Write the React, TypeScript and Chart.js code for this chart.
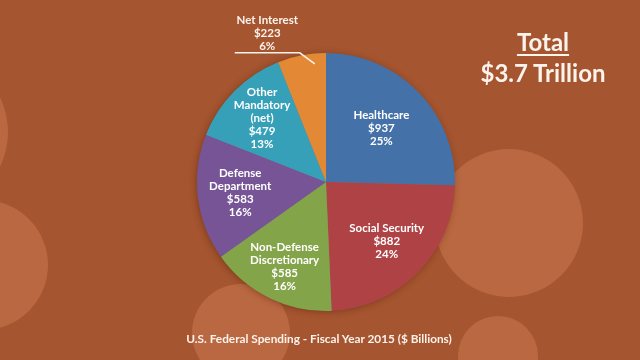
import React, { useEffect, useRef } from "react";
import { Chart, registerables } from "chart.js";

Chart.register(...registerables);

const categories: string[][] = [
  ["Healthcare"],
  ["Social Security"],
  ["Non-Defense", "Discretionary"],
  ["Defense", "Department"],
  ["Other", "Mandatory", "(net)"],
  ["Net Interest"],
];
const spending = [937, 882, 585, 583, 479, 223];
const sharePercents = [25, 24, 16, 16, 13, 6];
const sliceColors = ["#4471A8", "#AE4245", "#84A449", "#765496", "#36A0B9", "#E38834"];

const titleLines = ["Total", "$3.7 Trillion"];
const captionText = "U.S. Federal Spending - Fiscal Year 2015 ($ Billions)";

const BG = "#A5552F";
const CIRCLE = "#BA6841";
const TEXT = "#FCF3EC";

const labelRadius = [0.6, 0.66, 0.73, 0.67, 0.7];

const pieShadow = {
  id: "pieShadow",
  beforeDatasetsDraw(chart: any) {
    const arc = chart.getDatasetMeta(0).data[0];
    if (!arc) return;
    const { x, y, outerRadius } = arc.getProps(["x", "y", "outerRadius"], true);
    const ctx = chart.ctx;
    ctx.save();
    ctx.shadowColor = "rgba(70,25,5,0.45)";
    ctx.shadowBlur = 7;
    ctx.shadowOffsetX = -1;
    ctx.shadowOffsetY = 1;
    ctx.fillStyle = "#7a7a7a";
    ctx.beginPath();
    ctx.arc(x, y, outerRadius - 0.5, 0, Math.PI * 2);
    ctx.fill();
    ctx.restore();
  },
};

const sliceLabels = {
  id: "sliceLabels",
  afterDatasetsDraw(chart: any) {
    const ctx = chart.ctx;
    const meta = chart.getDatasetMeta(0);
    ctx.save();
    ctx.font = "bold 11.5px Lato";
    ctx.fillStyle = "#FFFFFF";
    ctx.textAlign = "center";
    ctx.textBaseline = "middle";
    const lh = 13;
    meta.data.forEach((arc: any, i: number) => {
      const { x, y, startAngle, endAngle, outerRadius } = arc.getProps(
        ["x", "y", "startAngle", "endAngle", "outerRadius"],
        true
      );
      const lines = [...categories[i], `$${spending[i]}`, `${sharePercents[i]}%`];
      if (i < labelRadius.length) {
        const mid = (startAngle + endAngle) / 2;
        const r = outerRadius * labelRadius[i];
        const cx = x + Math.cos(mid) * r;
        const cy = y + Math.sin(mid) * r;
        const top = cy - ((lines.length - 1) * lh) / 2;
        lines.forEach((t, k) => ctx.fillText(t, cx, top + k * lh));
      } else {
        const a = (startAngle + 3 * endAngle) / 4;
        const ex = x + Math.cos(a) * outerRadius * 0.92;
        const ey = y + Math.sin(a) * outerRadius * 0.92;
        const elx = ex - 15;
        const ely = ey - 11;
        const sx = elx - 65;
        ctx.strokeStyle = TEXT;
        ctx.lineWidth = 1.5;
        ctx.beginPath();
        ctx.moveTo(sx, ely);
        ctx.lineTo(elx, ely);
        ctx.lineTo(ex, ey);
        ctx.stroke();
        ctx.fillStyle = TEXT;
        const tx = (sx + elx) / 2;
        const bottom = ely - 7;
        lines.forEach((t, k) => ctx.fillText(t, tx, bottom - (lines.length - 1 - k) * lh));
      }
    });
    ctx.restore();
  },
};

const circles = [
  { x: -72, y: 132, r: 80 },
  { x: -17, y: 265, r: 65 },
  { x: 509, y: 223, r: 74 },
  { x: 498, y: 356, r: 40 },
  { x: 241, y: 333, r: 49 },
];

export default function App() {
  const ref = useRef<HTMLCanvasElement | null>(null);
  useEffect(() => {
    if (!ref.current) return;
    const chart = new Chart(ref.current, {
      type: "pie",
      data: {
        labels: categories.map((c) => c.join(" ")),
        datasets: [
          {
            data: spending,
            backgroundColor: sliceColors,
            borderWidth: 0,
            hoverOffset: 0,
            offset: 0,
          },
        ],
      },
      options: {
        responsive: false,
        maintainAspectRatio: false,
        animation: false,
        layout: { padding: { left: 197, right: 185, top: 53, bottom: 49 } },
        plugins: {
          legend: { display: false },
          tooltip: { enabled: false },
          title: { display: false },
        },
      },
      plugins: [pieShadow, sliceLabels],
    });
    return () => chart.destroy();
  }, []);

  return (
    <div
      style={{
        position: "fixed",
        left: 0,
        top: 0,
        width: 640,
        height: 360,
        overflow: "hidden",
        background: BG,
        fontFamily: "Lato, 'Open Sans', sans-serif",
      }}
    >
      {circles.map((c, i) => (
        <div
          key={i}
          style={{
            position: "absolute",
            left: c.x - c.r,
            top: c.y - c.r,
            width: c.r * 2,
            height: c.r * 2,
            borderRadius: "50%",
            background: CIRCLE,
          }}
        />
      ))}
      <canvas
        ref={ref}
        width={640}
        height={360}
        style={{ position: "absolute", left: 0, top: 0, width: 640, height: 360 }}
      />
      <div
        style={{
          position: "absolute",
          left: 463,
          top: 26,
          width: 160,
          textAlign: "center",
          color: TEXT,
          fontWeight: 700,
          fontSize: 24,
          lineHeight: "31px",
        }}
      >
        <div style={{ textDecoration: "underline", textUnderlineOffset: 3, textDecorationThickness: 2 }}>
          {titleLines[0]}
        </div>
        <div>{titleLines[1]}</div>
      </div>
      <div
        style={{
          position: "absolute",
          left: 0,
          top: 331,
          width: 638,
          textAlign: "center",
          color: TEXT,
          fontWeight: 700,
          fontSize: 11.8,
          lineHeight: "16px",
        }}
      >
        {captionText}
      </div>
    </div>
  );
}
